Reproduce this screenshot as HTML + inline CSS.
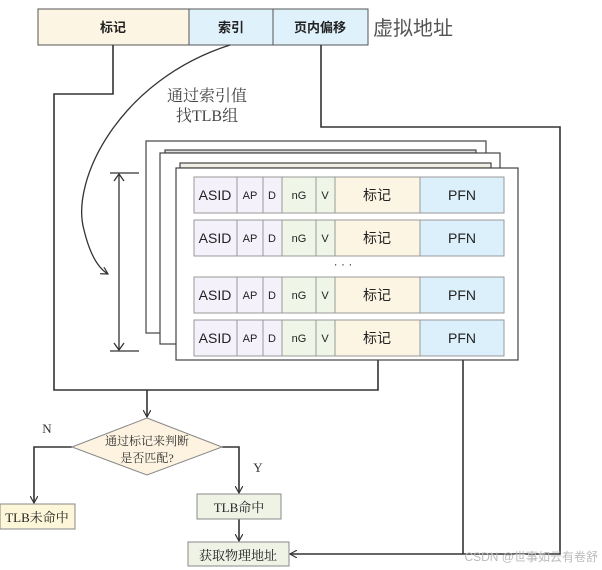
<!DOCTYPE html>
<html><head><meta charset="utf-8"><style>
html,body{margin:0;padding:0;background:#fff;}
svg{display:block;}
.s{font-family:"Liberation Sans","Noto Sans CJK SC",sans-serif;}
.r{font-family:"Liberation Serif","Noto Serif CJK SC",serif;}
</style></head><body>
<svg width="602" height="570" viewBox="0 0 602 570" xmlns="http://www.w3.org/2000/svg">
<defs>
<marker id="a" viewBox="0 0 10 10" refX="9" refY="5" markerWidth="8" markerHeight="8" orient="auto" markerUnits="userSpaceOnUse">
<path d="M0,0 L9,5 L0,10" fill="none" stroke="#333" stroke-width="1.5"/></marker>
</defs>
<g stroke="#555" stroke-width="1">
<rect x="38" y="9" width="151" height="36" fill="#fdf5e4"/>
<rect x="189" y="9" width="84" height="36" fill="#dff1fb"/>
<rect x="273" y="9" width="95" height="36" fill="#dff1fb"/>
</g>
<g class="s" font-size="13" fill="#222" text-anchor="middle" font-weight="bold">
<text x="113" y="32">标记</text><text x="231" y="32">索引</text><text x="320" y="32">页内偏移</text>
</g>
<text x="373" y="35" class="s" font-size="20" fill="#555">虚拟地址</text>
<text x="207" y="101" class="r" font-size="16" fill="#444" text-anchor="middle">通过索引值</text>
<text x="207" y="121" class="r" font-size="16" fill="#444" text-anchor="middle">找TLB组</text>
<g fill="none" stroke="#333" stroke-width="1.6">
<polyline points="113,45 113,94 54,94 54,390 378,390 378,358"/>
<polyline points="321,45 321,127 560,127 560,554 290,554" marker-end="url(#a)"/>
<line x1="463" y1="358" x2="463" y2="554"/>
<line x1="147" y1="390" x2="147" y2="417" marker-end="url(#a)"/>
<polyline points="72,447 34,447 34,503" marker-end="url(#a)"/>
<polyline points="222,447 239,447 239,493" marker-end="url(#a)"/>
<line x1="239" y1="519" x2="239" y2="541" marker-end="url(#a)"/>
<path d="M230,45 C120,80 70,180 84,230 C90,255 98,268 108,274" stroke-width="1.3" marker-end="url(#a)"/>
</g>
<g stroke="#333" stroke-width="1.3" fill="none">
<line x1="110" y1="173" x2="139" y2="173"/><line x1="110" y1="351" x2="139" y2="351"/>
<line x1="119" y1="174" x2="119" y2="350"/>
<polyline points="114,181 119,174 124,181"/><polyline points="114,343 119,350 124,343"/>
</g>
<g stroke="#444" stroke-width="1.2">
<rect x="146" y="141" width="340" height="192" fill="#fff"/>
<rect x="165" y="150" width="311" height="3" fill="#ddd"/>
<rect x="160" y="153" width="340" height="191" fill="#fff"/>
<rect x="180" y="163" width="311" height="5" fill="#f2efe6"/>
<rect x="176" y="168" width="342" height="192" fill="#fff"/>
</g>
<g class="s" font-size="14" text-anchor="middle" fill="#222">
<g id="row" stroke="#999" stroke-width="1">
<rect x="194" y="177" width="43" height="36" fill="#f4f1fb"/>
<rect x="237" y="177" width="26" height="36" fill="#f4f1fb"/>
<rect x="263" y="177" width="19" height="36" fill="#f4f1fb"/>
<rect x="282" y="177" width="34" height="36" fill="#eff6e7"/>
<rect x="316" y="177" width="19" height="36" fill="#eff6e7"/>
<rect x="335" y="177" width="85" height="36" fill="#fdf5e4"/>
<rect x="420" y="177" width="84" height="36" fill="#dcf0fb"/>
<g stroke="none">
<text x="215" y="200">ASID</text><text x="250" y="199" font-size="11">AP</text><text x="272" y="199" font-size="11">D</text><text x="299" y="199" font-size="11">nG</text><text x="325" y="199" font-size="11">V</text><text x="377" y="200">标记</text><text x="462" y="200">PFN</text>
</g></g>
<use href="#row" y="43"/><use href="#row" y="100"/><use href="#row" y="143"/>
</g>
<text x="343" y="268" class="s" font-size="12" fill="#333" text-anchor="middle">· · ·</text>
<polygon points="147,418 222,447 147,475 72,447" fill="#fdf3e0" stroke="#888" stroke-width="1"/>
<text x="147" y="445" class="r" font-size="12" fill="#333" text-anchor="middle">通过标记来判断</text>
<text x="147" y="462" class="r" font-size="12" fill="#333" text-anchor="middle">是否匹配?</text>
<text x="47" y="433" class="r" font-size="13" fill="#333" text-anchor="middle">N</text>
<text x="258" y="472" class="r" font-size="13" fill="#333" text-anchor="middle">Y</text>
<rect x="0" y="504" width="75" height="25" fill="#fdf6d8" stroke="#888"/>
<text x="37" y="522" class="r" font-size="13" fill="#222" text-anchor="middle">TLB未命中</text>
<rect x="197" y="494" width="84" height="25" fill="#eef3e6" stroke="#888"/>
<text x="239" y="512" class="r" font-size="13" fill="#222" text-anchor="middle">TLB命中</text>
<rect x="188" y="542" width="101" height="24" fill="#eef3e6" stroke="#888"/>
<text x="238" y="560" class="r" font-size="13" fill="#222" text-anchor="middle">获取物理地址</text>
<text x="598" y="561" class="s" font-size="12" fill="#bbb" text-anchor="end">CSDN @世事如云有卷舒</text>
</svg>
</body></html>
